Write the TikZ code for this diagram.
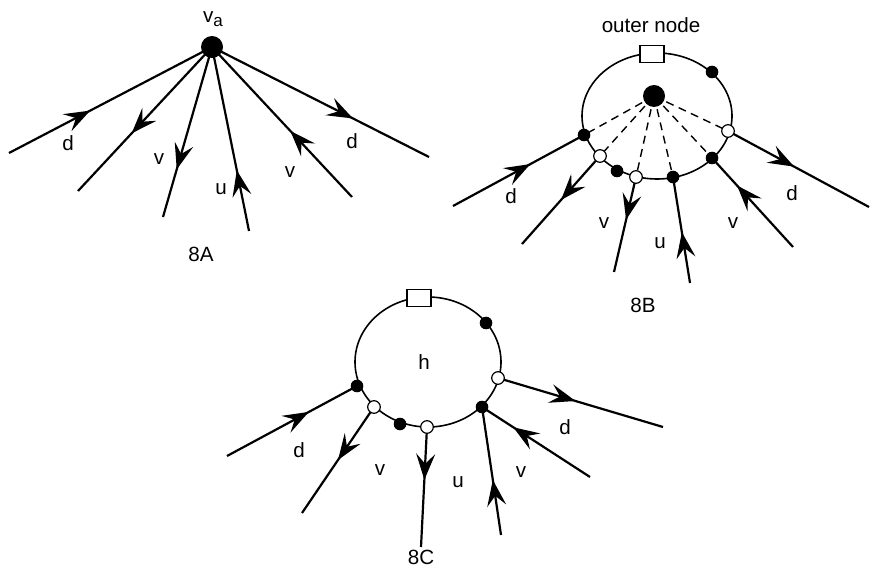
\documentclass[tikz,border=0pt]{standalone}
\usepackage{fontspec}
\setmainfont{Liberation Sans}
\usetikzlibrary{arrows.meta, decorations.markings, backgrounds}

\begin{document}
\begin{tikzpicture}[x=0.5pt, y=-0.5pt, font=\fontsize{10.3}{12}\selectfont,
    bigdot/.style={circle, fill, inner sep=0pt, minimum size=11pt},
    bdot/.style={circle, fill, inner sep=0pt, minimum size=6.3pt},
    wdot/.style={circle, draw, fill=white, line width=0.6pt, inner sep=0pt, minimum size=6.3pt},
    onode/.style={draw, fill=white, line width=0.6pt, inner sep=0pt, minimum width=12pt, minimum height=8.5pt},
    ring/.style={line width=0.8pt},
    leg/.style={line width=1.1pt},
    dashleg/.style={line width=0.7pt, dash pattern=on 4pt off 2.8pt},
    tipin/.style={leg, decoration={markings, mark=at position #1 with {\arrowreversed{Stealth[length=13pt, width=9.5pt, inset=5pt]}}}, postaction=decorate},
    tipout/.style={leg, decoration={markings, mark=at position #1 with {\arrow{Stealth[length=13pt, width=9.5pt, inset=5pt]}}}, postaction=decorate}]
    \useasboundingbox (0,0) rectangle (871,571);

    % 8A
    \node[bigdot] (va) at (212,47) {};
    \node (valab) at (213,19) {v\raisebox{-0.35ex}{\fontsize{8.5}{9}\selectfont a}};
    \coordinate (a1) at (9,153);
    \coordinate (a2) at (78,191);
    \coordinate (a3) at (163,217);
    \coordinate (a4) at (249,231);
    \coordinate (a5) at (352,197);
    \coordinate (a6) at (429,157);
    \node (da1) at (68,143) {d};
    \node (va3) at (159,159) {v};
    \node (ua4) at (221,189) {u};
    \node (va5) at (290,172) {v};
    \node (da6) at (352,141) {d};
    \node (cap8a) at (201,254) {8A};
    \begin{scope}[on background layer]
        \draw[tipin=0.6] (va.center) -- (a1);
        \draw[tipout=0.6] (va.center) -- (a2);
        \draw[tipout=0.72] (va.center) -- (a3);
        \draw[tipin=0.67] (va.center) -- (a4);
        \draw[tipin=0.56] (va.center) -- (a5);
        \draw[tipout=0.65] (va.center) -- (a6);
    \end{scope}

    % 8B
    \coordinate (cb) at (657,116);
    \node[onode] (ob) at (652,54) {};
    \node[bigdot] (vb) at (654,96) {};
    \node[bdot] (b1) at (584,135) {};
    \node[wdot] (b2) at (600,156) {};
    \node[bdot] (b3) at (617,171) {};
    \node[wdot] (b4) at (636,177) {};
    \node[bdot] (b5) at (673,177) {};
    \node[bdot] (b6) at (712,158) {};
    \node[wdot] (b7) at (728,131) {};
    \node[bdot] (b8) at (712,72) {};
    \coordinate (e1) at (453,206);
    \coordinate (e2) at (522,244);
    \coordinate (e3) at (614,272);
    \coordinate (e4) at (690,283);
    \coordinate (e5) at (793,247);
    \coordinate (e6) at (869,207);
    \node (outlab) at (651,25) {outer node};
    \node (db1) at (511,196) {d};
    \node (vb2) at (604,223) {v};
    \node (ub5) at (660,243) {u};
    \node (vb6) at (733,223) {v};
    \node (db7) at (792,193) {d};
    \node (cap8b) at (643,305) {8B};
    \begin{scope}[on background layer]
        \draw[ring] (cb) ellipse [x radius=75, y radius=63];
        \foreach \j in {b1,b2,b4,b5,b6,b7}
            \draw[dashleg] (vb.center) -- (\j.center);
        \draw[tipin=0.41] (b1.center) -- (e1);
        \draw[tipout=0.5] (b2.center) -- (e2);
        \draw[tipout=0.45] (b4.center) -- (e3);
        \draw[tipin=0.52] (b5.center) -- (e4);
        \draw[tipin=0.31] (b6.center) -- (e5);
        \draw[tipout=0.47] (b7.center) -- (e6);
    \end{scope}

    % 8C
    \coordinate (cc) at (428,362);
    \node[onode] (oc) at (419,298) {};
    \node (hlab) at (424,362) {h};
    \node[bdot] (c1) at (357,386) {};
    \node[wdot] (c3) at (374,407) {};
    \node[bdot] (c4) at (400,424) {};
    \node[wdot] (c5) at (427,427) {};
    \node[bdot] (c6) at (482,407) {};
    \node[wdot] (c7) at (498,378) {};
    \node[bdot] (c8) at (486,323) {};
    \coordinate (f1) at (227,456);
    \coordinate (f2) at (302,513);
    \coordinate (f3) at (421,547);
    \coordinate (f4) at (501,535);
    \coordinate (f5) at (590,477);
    \coordinate (f6) at (663,427);
    \node (dc1) at (299,450) {d};
    \node (vc3) at (380,470) {v};
    \node (uc5) at (458,482) {u};
    \node (vc6) at (521,472) {v};
    \node (dc7) at (565,427) {d};
    \node (cap8c) at (421,557) {8C};
    \begin{scope}[on background layer]
        \draw[ring] (cc) ellipse [x radius=73, y radius=65];
        \draw[tipin=0.37] (c1.center) -- (f1);
        \draw[tipout=0.5] (c3.center) -- (f2);
        \draw[tipout=0.44] (c5.center) -- (f3);
        \draw[tipin=0.57] (c6.center) -- (f4);
        \draw[tipin=0.29] (c6.center) -- (f5);
        \draw[tipout=0.47] (c7.center) -- (f6);
    \end{scope}
\end{tikzpicture}
\end{document}
